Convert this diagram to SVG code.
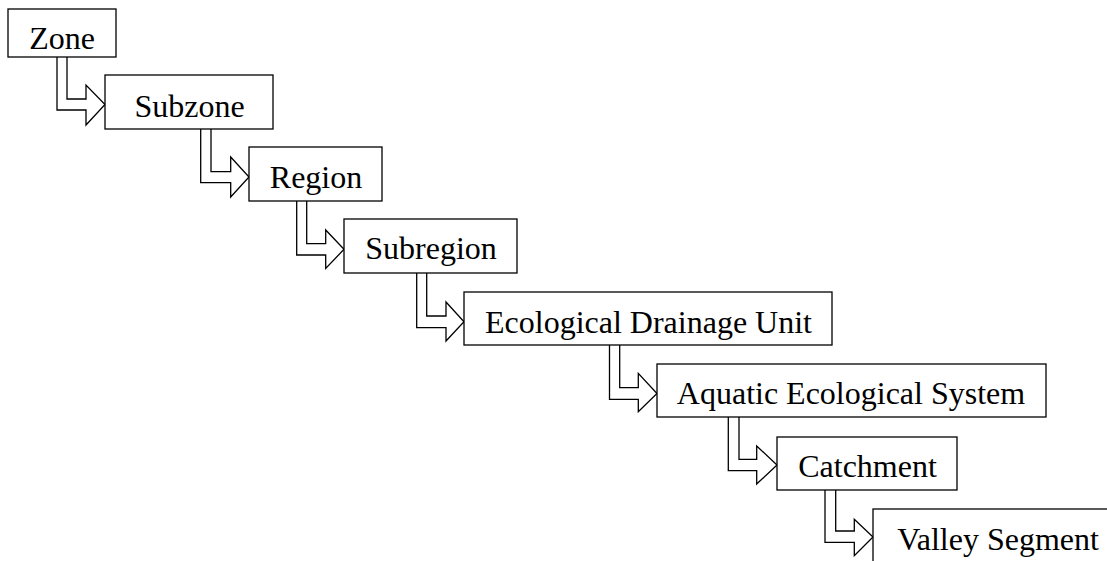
<svg xmlns="http://www.w3.org/2000/svg" width="1107" height="561" viewBox="0 0 1107 561">
<style>
.box{fill:#fff;stroke:#000;stroke-width:1.3}
.lbl{font-family:"Liberation Serif","Times New Roman",serif;font-size:32px;fill:#000;text-anchor:middle}
.arr{fill:#fff;stroke:#000;stroke-width:1.3;stroke-linejoin:miter}
</style>
<rect width="1107" height="561" fill="#fff"/>
<g id="connectors">
<path class="arr" d="M57,57 V110 H86 V125 L105,104.5 L86,85 V99 H67 V57"/>
<path class="arr" d="M200.7,129 V182.7 H230.7 V197 L249,177 L230.7,157 V171.7 H211 V129"/>
<path class="arr" d="M296.7,201 V255 H325.7 V268.5 L344,249.3 L325.7,230 V243.7 H306.7 V201"/>
<path class="arr" d="M416.7,273 V327.7 H446 V341 L464,321.8 L446,302 V316 H426.7 V273"/>
<path class="arr" d="M609.5,345 V399.3 H638.3 V411.7 L657,393.5 L638.3,373.3 V387.7 H619.7 V345"/>
<path class="arr" d="M728.3,417 V470.7 H756.7 V484 L777,465 L756.7,446 V459.3 H739 V417"/>
<path class="arr" d="M825,490 V542.3 H854.3 V555.7 L873,537 L854.3,519.3 V531 H835.7 V490"/>
</g>
<g id="zone"><rect class="box" x="8" y="9" width="108" height="48"/><text class="lbl" x="62" y="49">Zone</text></g>
<g id="subzone"><rect class="box" x="105" y="75" width="168" height="54"/><text class="lbl" x="189.5" y="116.5">Subzone</text></g>
<g id="region"><rect class="box" x="249" y="147" width="133" height="54"/><text class="lbl" x="316" y="188.3">Region</text></g>
<g id="subregion"><rect class="box" x="344" y="219" width="173" height="54"/><text class="lbl" x="431" y="259.3">Subregion</text></g>
<g id="edu"><rect class="box" x="464" y="292" width="368" height="53"/><text class="lbl" x="648.5" y="332.5">Ecological Drainage Unit</text></g>
<g id="aquatic"><rect class="box" x="657" y="364" width="389" height="53"/><text class="lbl" x="851" y="404.3">Aquatic Ecological System</text></g>
<g id="catchment"><rect class="box" x="777" y="437" width="180" height="53"/><text class="lbl" x="867.5" y="476.7">Catchment</text></g>
<g id="valley"><rect class="box" x="873" y="509" width="250" height="54"/><text class="lbl" x="998" y="549.5">Valley Segment</text></g>
</svg>
